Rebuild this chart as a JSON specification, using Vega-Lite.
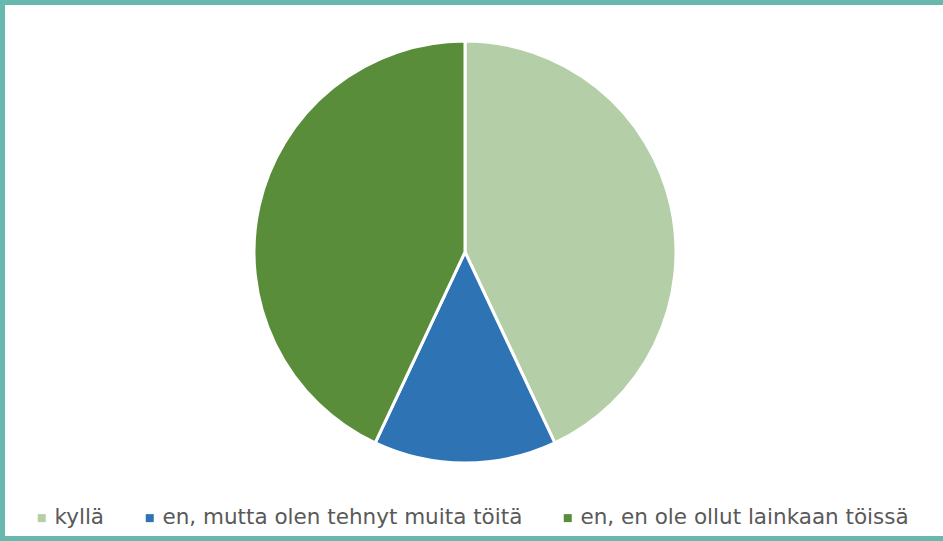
{
  "$schema": "https://vega.github.io/schema/vega-lite/v6.json",
  "width": 948,
  "height": 541,
  "autosize": "none",
  "padding": {"left": 0, "top": 0, "right": -5, "bottom": 0},
  "background": "white",
  "view": {"stroke": "#68b8ae", "strokeWidth": 10, "fill": "white"},
  "data": {
    "values": [
      {"i": 1, "vastaus": "kyllä", "osuus": 43},
      {"i": 2, "vastaus": "en, mutta olen tehnyt muita töitä", "osuus": 14},
      {"i": 3, "vastaus": "en, en ole ollut lainkaan töissä", "osuus": 43}
    ]
  },
  "mark": {"type": "arc", "outerRadius": 211, "x": 465, "y": 252, "stroke": "white", "strokeWidth": 3},
  "encoding": {
    "theta": {"field": "osuus", "type": "quantitative", "stack": true},
    "order": {"field": "i", "type": "quantitative"},
    "color": {
      "field": "vastaus",
      "type": "nominal",
      "sort": ["kyllä", "en, mutta olen tehnyt muita töitä", "en, en ole ollut lainkaan töissä"],
      "scale": {
        "domain": ["kyllä", "en, mutta olen tehnyt muita töitä", "en, en ole ollut lainkaan töissä"],
        "range": ["#b4cfa7", "#2e73b4", "#5a8d3a"]
      },
      "legend": {
        "title": null,
        "orient": "none",
        "legendX": 31,
        "legendY": 507,
        "direction": "horizontal",
        "symbolType": "square",
        "symbolSize": 64,
        "symbolStrokeWidth": 0,
        "labelFont": "DejaVu Sans",
        "labelFontSize": 21.5,
        "labelColor": "#595959",
        "labelOffset": 2,
        "columnPadding": 34,
        "labelLimit": 0
      }
    }
  }
}
